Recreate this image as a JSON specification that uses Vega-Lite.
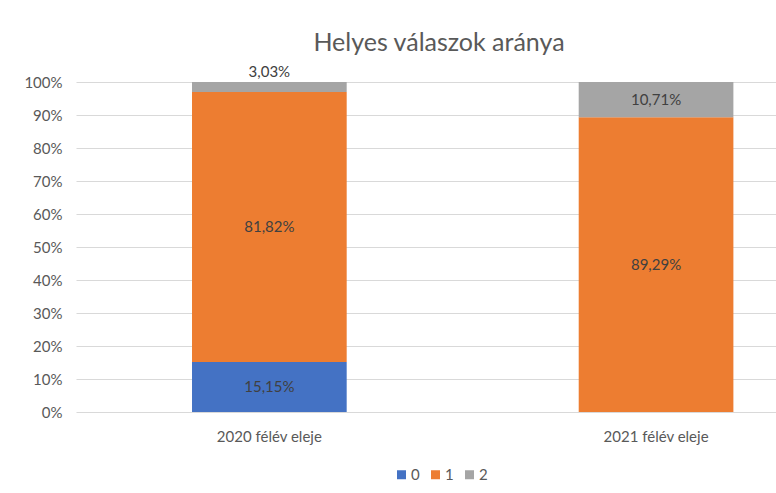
{
  "$schema": "https://vega.github.io/schema/vega-lite/v6.json",
  "width": 700,
  "height": 330,
  "autosize": "none",
  "padding": {"left": 76, "top": 82, "right": 0, "bottom": 81},
  "background": "white",
  "title": {
    "text": "Helyes válaszok aránya",
    "font": "Lato",
    "fontSize": 25,
    "fontWeight": "normal",
    "color": "#595959",
    "anchor": "middle",
    "dx": 13,
    "offset": 9
  },
  "data": {
    "values": [
      {"idoszak": "2020 félév eleje", "sorozat": "0", "arany": 0.1515},
      {"idoszak": "2020 félév eleje", "sorozat": "1", "arany": 0.8182},
      {"idoszak": "2020 félév eleje", "sorozat": "2", "arany": 0.0303},
      {"idoszak": "2021 félév eleje", "sorozat": "1", "arany": 0.8929},
      {"idoszak": "2021 félév eleje", "sorozat": "2", "arany": 0.1071}
    ]
  },
  "encoding": {
    "x": {
      "field": "idoszak",
      "type": "nominal",
      "sort": null,
      "scale": {"range": [0, 773.4], "paddingInner": 0.6, "paddingOuter": 0.3},
      "axis": {
        "title": null,
        "domain": false,
        "ticks": false,
        "labelAngle": 0,
        "labelPadding": 17,
        "labelFont": "Lato",
        "labelFontSize": 15,
        "labelColor": "#595959",
        "grid": false
      }
    }
  },
  "layer": [
    {
      "mark": {"type": "bar"},
      "encoding": {
        "y": {
          "field": "arany",
          "type": "quantitative",
          "stack": "normalize",
          "scale": {"domain": [0, 1]},
          "axis": {
            "title": null,
            "values": [0, 0.1, 0.2, 0.3, 0.4, 0.5, 0.6, 0.7, 0.8, 0.9, 1],
            "labelOverlap": false,
            "format": ".0%",
            "grid": true,
            "gridColor": "#d9d9d9",
            "gridWidth": 1,
            "domain": false,
            "ticks": false,
            "labelPadding": 14,
            "labelFont": "Lato",
            "labelFontSize": 15,
            "labelColor": "#595959"
          }
        },
        "color": {
          "field": "sorozat",
          "type": "nominal",
          "scale": {"domain": ["0", "1", "2"], "range": ["#4472C4", "#ED7D31", "#A5A5A5"]},
          "legend": {
            "orient": "none",
            "legendX": 318,
            "legendY": 385,
            "direction": "horizontal",
            "title": null,
            "symbolType": "square",
            "symbolSize": 81,
            "symbolStrokeWidth": 0,
            "labelFont": "Lato",
            "labelFontSize": 15,
            "labelColor": "#595959",
            "labelOffset": 2,
            "columnPadding": 8
          }
        },
        "order": {"field": "sorozat", "sort": "ascending"}
      }
    },
    {
      "mark": {"type": "text", "font": "Lato", "fontSize": 15, "color": "#404040"},
      "encoding": {
        "y": {
          "field": "arany",
          "type": "quantitative",
          "stack": "normalize",
          "bandPosition": 0.5,
          "axis": {
            "title": null,
            "values": [0, 0.1, 0.2, 0.3, 0.4, 0.5, 0.6, 0.7, 0.8, 0.9, 1],
            "labelOverlap": false,
            "format": ".0%",
            "grid": true,
            "gridColor": "#d9d9d9",
            "gridWidth": 1,
            "domain": false,
            "ticks": false,
            "labelPadding": 14,
            "labelFont": "Lato",
            "labelFontSize": 15,
            "labelColor": "#595959"
          }
        },
        "detail": {"field": "sorozat"},
        "order": {"field": "sorozat", "sort": "ascending"},
        "text": {"condition": {"test": "datum.arany < 0.05", "value": ""}, "field": "arany", "type": "quantitative", "format": ".2%"}
      }
    },
    {
      "transform": [
        {"stack": "arany", "groupby": ["idoszak"], "sort": [{"field": "sorozat", "order": "ascending"}], "offset": "normalize", "as": ["a0", "a1"]},
        {"filter": "datum.arany < 0.05"}
      ],
      "mark": {"type": "text", "font": "Lato", "fontSize": 15, "dy": -10, "color": "#404040"},
      "encoding": {
        "y": {
          "field": "a1",
          "type": "quantitative",
          "axis": {
            "title": null,
            "values": [0, 0.1, 0.2, 0.3, 0.4, 0.5, 0.6, 0.7, 0.8, 0.9, 1],
            "labelOverlap": false,
            "format": ".0%",
            "grid": true,
            "gridColor": "#d9d9d9",
            "gridWidth": 1,
            "domain": false,
            "ticks": false,
            "labelPadding": 14,
            "labelFont": "Lato",
            "labelFontSize": 15,
            "labelColor": "#595959"
          }
        },
        "text": {"field": "arany", "type": "quantitative", "format": ".2%"}
      }
    }
  ],
  "config": {
    "font": "Lato",
    "view": {"stroke": null},
    "locale": {
      "number": {"decimal": ",", "thousands": " ", "grouping": [3], "currency": ["", " Ft"]}
    }
  }
}
